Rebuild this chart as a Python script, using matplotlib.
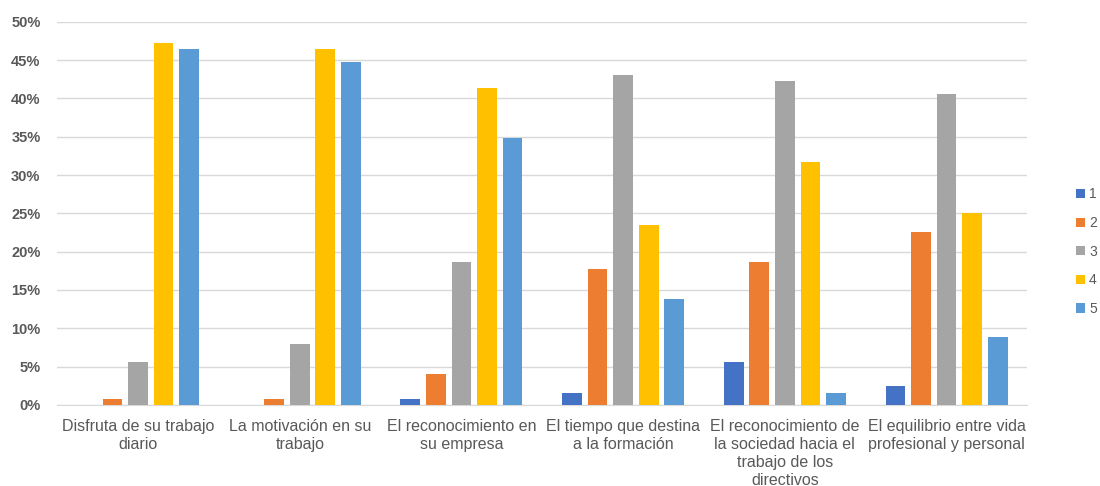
import numpy as np
import matplotlib.pyplot as plt
from matplotlib.ticker import PercentFormatter

plt.rcParams['font.family'] = ['Liberation Sans', 'DejaVu Sans']

categories = ['Disfruta de su trabajo\ndiario',
              'La motivación en su\ntrabajo',
              'El reconocimiento en\nsu empresa',
              'El tiempo que destina\na la formación',
              'El reconocimiento de\nla sociedad hacia el\ntrabajo de los\ndirectivos',
              'El equilibrio entre vida\nprofesional y personal']

s1 = [0.0, 0.0, 0.8, 1.6, 5.6, 2.4]
s2 = [0.8, 0.8, 4.0, 17.8, 18.6, 22.6]
s3 = [5.6, 8.0, 18.6, 43.0, 42.3, 40.6]
s4 = [47.2, 46.4, 41.4, 23.5, 31.7, 25.1]
s5 = [46.4, 44.8, 34.9, 13.8, 1.6, 8.9]

series = [s1, s2, s3, s4, s5]
names = ['1', '2', '3', '4', '5']
colors = ['#4472c4', '#ed7d31', '#a5a5a5', '#ffc000', '#5b9bd5']

fig = plt.figure(figsize=(11, 4.86), dpi=100)
ax = fig.add_axes([0.052, 0.167, 0.882, 0.788])

x = np.arange(len(categories))
pitch = 0.158
width = 0.122
for i, (vals, name, c) in enumerate(zip(series, names, colors)):
    ax.bar(x + (i - 2) * pitch, vals, width, color=c, label=name, zorder=3)

ax.set_xlim(-0.5, len(categories) - 0.5)
ax.set_ylim(0, 50)
ax.set_yticks(np.arange(0, 51, 5))
ax.yaxis.set_major_formatter(PercentFormatter(decimals=0))
ax.grid(axis='y', color='#d9d9d9', linewidth=1, zorder=0)
for sp in ['top', 'right', 'left']:
    ax.spines[sp].set_visible(False)
ax.spines['bottom'].set_color('#d9d9d9')
ax.set_xticks(x)
ax.set_xticklabels(categories, fontsize=11.5, color='#595959', linespacing=1.25)
ax.tick_params(axis='both', length=0)
ax.tick_params(axis='x', pad=10)
ax.tick_params(axis='y', pad=12)
for lbl in ax.get_yticklabels():
    lbl.set_fontweight('bold')
    lbl.set_color('#595959')
    lbl.set_fontsize(10.5)

ax.legend(loc='center left', bbox_to_anchor=(1.04, 0.40), frameon=False,
          handlelength=0.65, handleheight=0.65, handletextpad=0.3,
          labelspacing=1.05, fontsize=10, labelcolor='#595959',
          borderaxespad=0.3)

fig.savefig('out.png', dpi=100)
